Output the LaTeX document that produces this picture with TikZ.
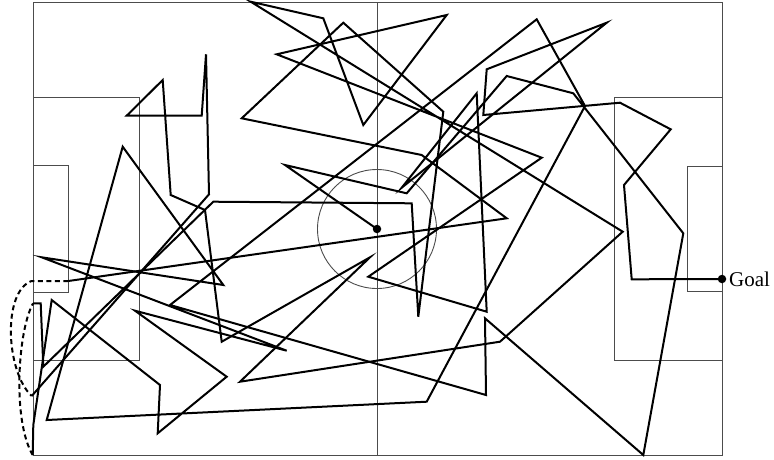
\documentclass[tikz,border=0pt]{standalone}
\usepackage{fontspec}
\setmainfont{Liberation Serif}
\begin{document}
\begin{tikzpicture}[x=1pt,y=-1pt,
  field/.style={line width=0.9pt, draw=black!70},
  walk/.style={line width=2pt, draw=black},
  outwalk/.style={line width=2pt, draw=black, dash pattern=on 5pt off 3.5pt},
  dot/.style={circle, fill=black, draw=none, inner sep=0pt, minimum size=8.5pt},
  lbl/.style={anchor=west, inner sep=2.5pt, font=\fontsize{21}{24}\selectfont}]
\useasboundingbox (0,0) rectangle (774,459);
% pitch
\draw[field] (33,2.5) rectangle (722,455.5);
\draw[field] (377,2.5) -- (377,455.5);
\draw[field] (377,229) circle[radius=59.5pt];
\draw[field] (33,97) rectangle (139.5,360);
\draw[field] (33,165) rectangle (68.5,292);
\draw[field] (614.3,97) rectangle (722,360);
\draw[field] (687,166) rectangle (722,291.5);
% vertices
\coordinate (a1) at (285,165);
\coordinate (a2) at (406.7,193.3);
\coordinate (a3) at (506.7,76);
\coordinate (a4) at (573.3,93.3);
\coordinate (a5) at (683.3,233.3);
\coordinate (a6) at (643.3,455);
\coordinate (a7) at (485,318.3);
\coordinate (a8) at (486,395);
\coordinate (a9) at (170,305);
\coordinate (a10) at (536.7,19.3);
\coordinate (a11) at (585,106);
\coordinate (a12) at (426.7,401.7);
\coordinate (a13) at (46.7,420);
\coordinate (a14) at (122.7,146.7);
\coordinate (a15) at (223.3,285);
\coordinate (a16) at (41.7,257.3);
\coordinate (a17) at (286.7,350.7);
\coordinate (a18) at (135,310.7);
\coordinate (a19) at (226.7,376.7);
\coordinate (a20) at (157.7,433.3);
\coordinate (a21) at (160,385);
\coordinate (a22) at (51.7,300);
\coordinate (a23) at (33.3,425);
\coordinate (a24) at (32.7,455);
\coordinate (b1) at (33,303.5);
\coordinate (b2) at (40.7,303.3);
\coordinate (b3) at (43.3,366.7);
\coordinate (b4) at (213.3,201.7);
\coordinate (b5) at (411.7,203.3);
\coordinate (b6) at (418.3,316.7);
\coordinate (b7) at (443.3,111.7);
\coordinate (b8) at (343.3,22.7);
\coordinate (b9) at (241.7,118.3);
\coordinate (b10) at (421.7,155);
\coordinate (b11) at (506.7,218.3);
\coordinate (b12) at (68.3,281);
\coordinate (d1) at (31.5,281);
\coordinate (e1) at (31.7,396);
\coordinate (e2) at (209,194.3);
\coordinate (e3) at (206,54.3);
\coordinate (e4) at (201.7,115.7);
\coordinate (e5) at (126.7,115.7);
\coordinate (e6) at (162.7,80);
\coordinate (e7) at (170.7,195);
\coordinate (e8) at (205,210);
\coordinate (e9) at (221.7,341.7);
\coordinate (e10) at (370,257.3);
\coordinate (e11) at (240,381.7);
\coordinate (e12) at (500,341.7);
\coordinate (e13) at (622.7,231.7);
\coordinate (e14) at (250.7,1.7);
\coordinate (e15) at (323.3,18.3);
\coordinate (e16) at (363.3,125);
\coordinate (e17) at (446.7,15);
\coordinate (e18) at (276.7,54.3);
\coordinate (e19) at (541.7,157.7);
\coordinate (e20) at (368.3,276.7);
\coordinate (e21) at (486.7,311.7);
\coordinate (e22) at (476.7,93.3);
\coordinate (e23) at (401.7,187.7);
\coordinate (e24) at (606.7,22.7);
\coordinate (e25) at (486.7,69.3);
\coordinate (e26) at (483.3,115);
\coordinate (e27) at (620,102.7);
\coordinate (e28) at (670.7,129.3);
\coordinate (e29) at (624,185);
\coordinate (e30) at (631.7,279.3);
\node[dot] (start) at (377,229) {};
\node[dot] (goal) at (722,279) {};
\node[lbl] (goallbl) at (goal.east) {Goal};
% walk
\draw[walk] (start.center) -- (a1) -- (a2) -- (a3) -- (a4) -- (a5) -- (a6) -- (a7) -- (a8)
  -- (a9) -- (a10) -- (a11) -- (a12) -- (a13) -- (a14) -- (a15) -- (a16) -- (a17)
  -- (a18) -- (a19) -- (a20) -- (a21) -- (a22) -- (a23) -- (a24);
\draw[outwalk] (a24) .. controls (12,420) and (18,330) .. (b1);
\draw[walk] (b1) -- (b2) -- (b3) -- (b4) -- (b5) -- (b6) -- (b7) -- (b8) -- (b9)
  -- (b10) -- (b11) -- (b12);
\draw[outwalk] (b12) -- (d1) .. controls (2,292) and (6,372) .. (e1);
\draw[walk] (e1) -- (e2) -- (e3) -- (e4) -- (e5) -- (e6) -- (e7) -- (e8) -- (e9)
  -- (e10) -- (e11) -- (e12) -- (e13) -- (e14) -- (e15) -- (e16) -- (e17) -- (e18)
  -- (e19) -- (e20) -- (e21) -- (e22) -- (e23) -- (e24) -- (e25) -- (e26) -- (e27)
  -- (e28) -- (e29) -- (e30) -- (goal.center);
\end{tikzpicture}
\end{document}
